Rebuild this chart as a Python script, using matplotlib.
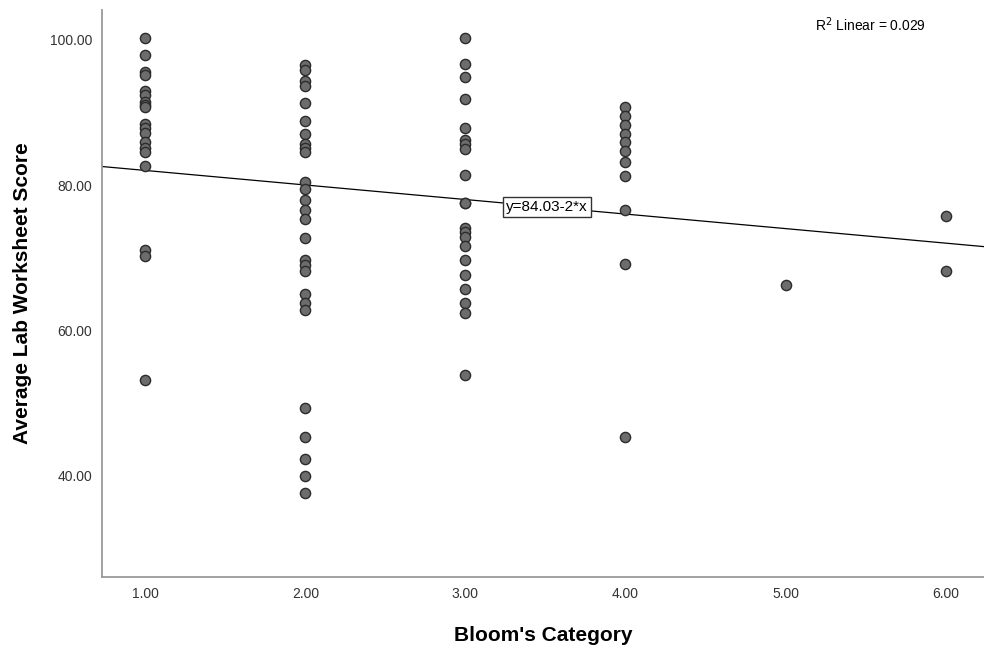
import matplotlib.pyplot as plt
import numpy as np

plt.rcParams['font.family'] = ['Liberation Sans', 'DejaVu Sans']

# scores, grouped by Bloom's category
scores_cat1 = [100.2, 97.9, 95.6, 95.2, 93.0, 92.4, 91.5, 91.0, 90.7, 88.4, 87.9, 87.2,
               85.9, 85.1, 84.5, 82.6, 71.1, 70.2, 53.2]
scores_cat2 = [96.6, 95.9, 94.3, 93.6, 91.3, 88.9, 87.1, 85.7, 85.1, 84.5, 80.5, 79.5,
               78.0, 76.6, 75.4, 72.8, 69.7, 69.0, 68.2, 65.0, 63.8, 62.9, 49.3, 45.3,
               42.3, 40.0, 37.6]
scores_cat3 = [100.2, 96.7, 94.9, 91.8, 87.9, 86.2, 85.6, 85.0, 81.4, 77.6, 77.5, 74.1,
               73.5, 72.9, 71.6, 69.7, 67.7, 65.7, 63.8, 62.4, 53.9]
scores_cat4 = [90.7, 89.5, 88.3, 87.1, 85.9, 84.7, 83.2, 81.3, 76.6, 69.1, 45.4]
scores_cat5 = [66.3]
scores_cat6 = [75.8, 68.2]

categories = [1, 2, 3, 4, 5, 6]
groups = [scores_cat1, scores_cat2, scores_cat3, scores_cat4, scores_cat5, scores_cat6]

intercept = 84.03
slope = -2.0
r_squared = 0.029

x = np.concatenate([[c] * len(g) for c, g in zip(categories, groups)])
y = np.concatenate(groups)

fig = plt.figure(figsize=(9.84, 6.46), dpi=100)
ax = fig.add_axes([0.1037, 0.1068, 0.8963, 0.8777])

ax.scatter(x, y, s=54, color='#6c6c6c', edgecolors='#2b2b2b', linewidths=1.0, zorder=3)

xmin, xmax = 0.73, 6.24
ax.plot([xmin, xmax], [intercept + slope * xmin, intercept + slope * xmax],
        color='black', linewidth=0.9, zorder=2)

ax.text(3.51, intercept + slope * 3.51, f'y={intercept:.2f}-{abs(slope):g}*x',
        ha='center', va='center', fontsize=11, zorder=4,
        bbox=dict(boxstyle='square,pad=0.2', facecolor='white', edgecolor='#333333', linewidth=1))

ax.set_xlim(xmin, xmax)
ax.set_ylim(26.1, 104.1)
ax.set_xticks(categories)
ax.set_xticklabels([f'{c:.2f}' for c in categories])
ax.set_yticks([40, 60, 80, 100])
ax.set_yticklabels(['40.00', '60.00', '80.00', '100.00'])
ax.tick_params(length=0, labelsize=10, colors='#333333', pad=7)

for side in ['top', 'right']:
    ax.spines[side].set_visible(False)
for side in ['left', 'bottom']:
    ax.spines[side].set_color('#9a9a9a')
    ax.spines[side].set_linewidth(1.3)

ax.set_xlabel("Bloom's Category", fontsize=15, fontweight='bold', labelpad=18)
ax.set_ylabel('Average Lab Worksheet Score', fontsize=15, fontweight='bold', labelpad=13)

fig.text(0.828, 0.962, f'R$^2$ Linear = {r_squared:.3f}', fontsize=10, ha='left', va='center')

fig.savefig('out.png', dpi=100)
